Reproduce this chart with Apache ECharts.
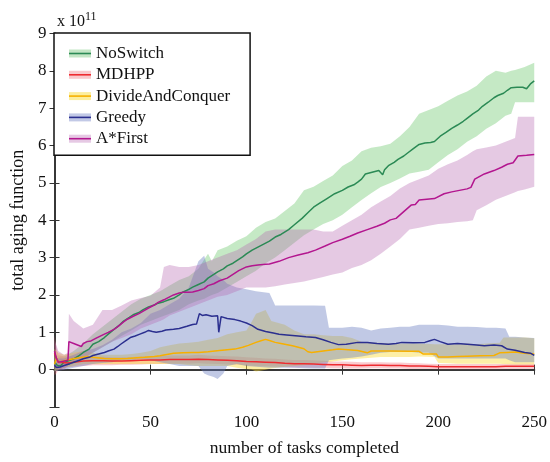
<!DOCTYPE html>
<html>
<head>
<meta charset="utf-8">
<script src="https://cdn.jsdelivr.net/npm/echarts@6/dist/echarts.min.js"></script>
<style>
html, body { margin: 0; padding: 0; background: #fff; }
#main { width: 550px; height: 462px; }
</style>
</head>
<body>
<div id="main"></div>
<script>
// mean curves: [tasks, value x 1e11]
var noSwitchMean = [[0,0.2],[1.5,0.11],[3,0.1],[5,0.2],[8,0.25],[10,0.29],[13,0.38],[15,0.46],[18,0.55],[20,0.68],[23,0.75],[26,0.86],[28,0.95],[31,1.08],[34,1.2],[36,1.3],[39,1.4],[41,1.47],[44,1.53],[46,1.6],[49,1.68],[52,1.73],[54,1.78],[57,1.82],[60,1.88],[62,1.91],[65,2.0],[67,2.08],[70,2.15],[72,2.21],[75,2.28],[78,2.35],[80,2.45],[83,2.55],[85,2.62],[88,2.7],[90,2.78],[93,2.85],[95,2.92],[98,3.02],[100,3.1],[103,3.2],[106,3.28],[109,3.36],[112,3.44],[115,3.55],[118,3.62],[122,3.75],[125,3.88],[129,4.05],[132,4.2],[135,4.35],[138,4.45],[142,4.58],[146,4.71],[150,4.8],[153,4.89],[156,4.95],[158,5.02],[160,5.1],[162,5.24],[165,5.28],[169,5.33],[170,5.3],[171,5.22],[172,5.35],[174,5.46],[177,5.55],[179,5.63],[182,5.72],[184,5.8],[187,5.92],[190,6.03],[193,6.07],[196,6.08],[198,6.11],[201,6.25],[204,6.35],[207,6.46],[210,6.55],[213,6.65],[215,6.73],[218,6.85],[221,6.95],[223,7.05],[226,7.16],[229,7.28],[231,7.34],[234,7.4],[236,7.48],[238,7.55],[241,7.56],[244,7.56],[246,7.52],[248,7.65],[250,7.73]];
var mdhppMean = [[0,0.45],[1,0.3],[2,0.2],[4,0.19],[7,0.18],[10,0.2],[15,0.23],[20,0.24],[25,0.24],[30,0.23],[35,0.23],[40,0.24],[45,0.25],[50,0.26],[55,0.26],[60,0.27],[65,0.27],[70,0.27],[75,0.28],[80,0.27],[85,0.26],[90,0.25],[95,0.24],[100,0.22],[105,0.21],[110,0.2],[115,0.19],[120,0.17],[125,0.16],[130,0.16],[135,0.15],[140,0.14],[145,0.13],[150,0.13],[155,0.12],[160,0.11],[165,0.12],[170,0.12],[175,0.11],[180,0.11],[185,0.1],[190,0.1],[195,0.09],[200,0.08],[210,0.08],[220,0.08],[230,0.08],[235,0.09],[240,0.09],[250,0.09]];
var divideMean = [[0,0.15],[1,0.3],[2,0.2],[3,0.15],[5,0.24],[8,0.27],[10,0.29],[13,0.32],[17,0.35],[20,0.33],[22,0.32],[26,0.3],[30,0.29],[34,0.29],[38,0.3],[43,0.32],[47,0.33],[52,0.35],[55,0.37],[57,0.39],[60,0.42],[62,0.44],[67,0.45],[72,0.46],[75,0.46],[80,0.48],[86,0.51],[90,0.53],[94,0.55],[98,0.6],[101,0.65],[105,0.73],[108,0.78],[110,0.81],[112,0.78],[115,0.73],[118,0.7],[120,0.68],[124,0.64],[127,0.6],[130,0.56],[132,0.48],[134,0.46],[140,0.5],[145,0.53],[148,0.55],[153,0.53],[158,0.51],[163,0.45],[165,0.5],[175,0.5],[185,0.49],[190,0.49],[192,0.42],[199,0.42],[200,0.34],[205,0.34],[210,0.35],[215,0.36],[222,0.37],[229,0.38],[232,0.45],[236,0.46],[240,0.47],[245,0.44],[250,0.42]];
var greedyMean = [[0,0.12],[1,0.06],[3,0.07],[5,0.11],[8,0.16],[10,0.2],[13,0.25],[15,0.29],[18,0.33],[20,0.38],[23,0.42],[26,0.46],[28,0.5],[31,0.55],[33,0.62],[34.5,0.68],[37,0.77],[39.5,0.86],[42,0.9],[44.5,0.95],[47,1.0],[49,1.05],[51,1.02],[53,1.0],[56,1.03],[58,1.06],[62,1.08],[65,1.1],[69,1.16],[72,1.21],[74,1.22],[75.5,1.5],[77,1.45],[79,1.47],[82,1.43],[85,1.44],[85.6,1.0],[86.3,1.0],[86.8,1.42],[90,1.37],[94,1.34],[97,1.3],[100,1.25],[103,1.18],[106,1.08],[110,1.02],[114,0.98],[117,0.95],[121,0.93],[127,0.9],[131,0.88],[136,0.86],[140,0.8],[144,0.73],[148,0.67],[152,0.68],[158,0.73],[163,0.73],[168,0.7],[174,0.68],[178,0.7],[181,0.73],[187,0.72],[193,0.73],[196,0.78],[198,0.81],[201,0.75],[205,0.68],[210,0.7],[215,0.68],[220,0.66],[224,0.64],[229,0.66],[233,0.64],[236,0.55],[240,0.52],[245,0.46],[248,0.44],[250,0.38]];
var aStarMean = [[0,0.5],[1,0.3],[2,0.2],[4,0.22],[7,0.25],[7.5,0.75],[10,0.7],[12,0.66],[14,0.62],[15,0.7],[17,0.75],[19,0.77],[22,0.85],[26,0.95],[28,1.0],[31,1.08],[33,1.15],[36,1.28],[38,1.35],[41,1.43],[44,1.5],[46,1.56],[49,1.65],[52,1.73],[54,1.8],[57,1.87],[60,1.95],[62,2.0],[65,2.05],[67,2.07],[70,2.07],[72,2.08],[75,2.12],[78,2.17],[80,2.25],[83,2.3],[86,2.38],[90,2.45],[93,2.55],[96,2.65],[100,2.75],[103,2.78],[106,2.8],[110,2.82],[112,2.83],[117,2.9],[122,3.0],[127,3.07],[132,3.13],[136,3.2],[141,3.31],[145,3.4],[150,3.49],[154,3.57],[158,3.66],[163,3.75],[168,3.84],[172,3.92],[175,4.01],[178,4.05],[182,4.23],[186,4.41],[188,4.42],[190,4.54],[194,4.56],[198,4.58],[203,4.71],[207,4.76],[211,4.8],[215,4.84],[217,4.88],[219,5.1],[224,5.24],[229,5.33],[233,5.42],[236,5.5],[239,5.54],[240,5.56],[241.5,5.72],[246,5.74],[250,5.76]];

// spread bands: [tasks, lower, upper]
var noSwitchBand = [[0,0.0,0.35],[5,0.05,0.35],[10,0.15,0.5],[15,0.3,0.7],[20,0.45,0.95],[25,0.6,1.15],[30,0.75,1.35],[35,0.9,1.55],[40,1.05,1.75],[45,1.2,1.9],[50,1.3,2.0],[55,1.4,2.1],[60,1.5,2.25],[65,1.6,2.4],[70,1.75,2.5],[75,1.85,2.7],[78,1.9,2.95],[80,1.95,3.1],[82,2.0,2.9],[85,2.05,3.2],[90,2.2,3.3],[95,2.35,3.45],[100,2.5,3.57],[105,2.65,3.8],[110,2.85,3.95],[115,3.0,4.05],[120,3.2,4.25],[125,3.4,4.45],[130,3.6,4.8],[135,3.75,4.9],[140,3.9,5.05],[145,4.0,5.2],[150,4.15,5.45],[155,4.35,5.6],[160,4.54,5.85],[165,4.72,5.94],[170,4.89,5.98],[175,5.0,6.05],[180,5.12,6.25],[185,5.25,6.5],[190,5.3,6.85],[195,5.35,6.95],[200,5.55,7.05],[205,5.75,7.2],[210,5.9,7.34],[215,6.1,7.45],[220,6.25,7.6],[225,6.45,7.85],[230,6.6,8.0],[235,6.8,7.95],[238,6.85,8.0],[240,7.16,8.02],[245,7.16,8.1],[250,7.16,8.22]];
var mdhppBand = [[0,-0.15,0.9],[1,-0.1,0.6],[2,0.0,0.4],[5,0.05,0.35],[10,0.08,0.35],[15,0.1,0.35],[20,0.12,0.35],[25,0.12,0.35],[30,0.12,0.33],[35,0.13,0.33],[40,0.13,0.34],[45,0.14,0.35],[50,0.15,0.36],[55,0.15,0.37],[60,0.16,0.38],[65,0.16,0.38],[70,0.16,0.38],[75,0.17,0.4],[80,0.16,0.38],[85,0.15,0.37],[90,0.14,0.36],[95,0.13,0.35],[100,0.11,0.33],[105,0.1,0.32],[110,0.09,0.3],[115,0.08,0.29],[120,0.07,0.27],[125,0.06,0.26],[130,0.06,0.26],[135,0.05,0.25],[140,0.05,0.24],[145,0.04,0.22],[150,0.04,0.22],[155,0.03,0.21],[160,0.03,0.2],[165,0.04,0.2],[170,0.04,0.2],[175,0.03,0.19],[180,0.03,0.19],[185,0.02,0.18],[190,0.02,0.17],[195,0.02,0.16],[200,0.01,0.15],[210,0.01,0.15],[220,0.01,0.15],[230,0.01,0.15],[240,0.02,0.16],[250,0.02,0.16]];
var divideBand = [[0,-0.05,0.55],[2,0.0,0.45],[5,0.05,0.4],[10,0.1,0.45],[15,0.15,0.5],[20,0.15,0.45],[25,0.15,0.4],[30,0.15,0.4],[35,0.15,0.4],[40,0.15,0.42],[45,0.15,0.45],[50,0.15,0.5],[55,0.15,0.6],[60,0.15,0.65],[65,0.15,0.7],[70,0.12,0.72],[75,0.1,0.75],[80,0.1,0.8],[85,0.1,0.85],[90,0.1,0.95],[95,0.05,1.0],[100,0.02,1.05],[103,0.0,1.3],[105,-0.05,1.5],[110,0.0,1.6],[113,0.03,1.3],[120,0.08,1.2],[125,0.1,1.05],[130,0.12,0.95],[135,0.15,0.95],[140,0.2,0.92],[145,0.22,0.9],[150,0.25,0.9],[155,0.28,0.85],[160,0.3,0.75],[165,0.32,0.72],[170,0.34,0.72],[175,0.34,0.7],[180,0.34,0.7],[185,0.34,0.7],[190,0.35,0.7],[198,0.34,0.68],[200,0.18,0.68],[205,0.17,0.68],[210,0.16,0.68],[215,0.16,0.7],[220,0.16,0.68],[225,0.16,0.7],[232,0.16,0.72],[234,0.15,0.86],[240,0.14,0.86],[245,0.14,0.86],[250,0.14,0.84]];
var greedyBand = [[0,-0.05,0.3],[5,0.0,0.3],[10,0.05,0.4],[15,0.1,0.5],[20,0.15,0.55],[25,0.18,0.65],[30,0.2,0.8],[35,0.25,1.0],[40,0.25,1.1],[45,0.28,1.25],[50,0.25,1.5],[55,0.2,1.6],[60,0.15,1.75],[65,0.1,1.9],[70,0.1,2.2],[75,0.1,2.9],[78,-0.1,3.05],[80,-0.15,2.7],[83,-0.2,2.6],[85,-0.25,2.5],[88,-0.1,2.4],[90,0.1,2.3],[95,0.15,2.2],[100,0.1,2.15],[105,0.08,2.1],[112,0.05,2.05],[115,0.05,1.72],[120,0.05,1.72],[125,0.05,1.72],[130,0.04,1.72],[135,0.03,1.72],[141,0.03,1.71],[143,0.25,1.12],[150,0.3,1.12],[155,0.32,1.15],[160,0.35,1.12],[165,0.4,1.05],[170,0.45,1.1],[175,0.47,1.12],[180,0.48,1.15],[185,0.48,1.15],[190,0.45,1.2],[195,0.45,1.2],[200,0.3,1.2],[205,0.3,1.18],[210,0.3,1.15],[215,0.3,1.15],[220,0.3,1.14],[225,0.3,1.12],[230,0.3,1.12],[235,0.3,1.1],[237,0.25,0.88],[240,0.2,0.88],[245,0.2,0.86],[250,0.2,0.85]];
var aStarBand = [[0,0.1,0.8],[2,0.0,0.5],[5,0.0,0.4],[7,0.1,0.45],[7.5,0.3,1.5],[10,0.2,1.3],[15,0.3,1.1],[20,0.45,1.2],[25,0.6,1.6],[30,0.75,1.6],[35,0.85,1.72],[40,0.95,1.85],[45,1.1,1.92],[50,1.2,1.98],[55,1.3,2.2],[57,1.35,2.75],[60,1.45,2.8],[65,1.55,2.75],[70,1.65,2.75],[75,1.75,2.8],[80,1.85,2.9],[85,1.95,3.0],[90,2.0,3.1],[95,2.1,3.2],[100,2.2,3.35],[105,2.2,3.5],[110,2.2,3.7],[115,2.23,3.75],[120,2.28,3.75],[125,2.32,3.75],[130,2.36,3.75],[135,2.42,3.75],[140,2.48,3.7],[145,2.55,3.7],[150,2.6,3.85],[155,2.72,4.0],[160,2.8,4.15],[165,2.93,4.35],[170,3.1,4.5],[175,3.3,4.65],[180,3.5,4.85],[185,3.75,5.0],[190,3.8,5.1],[195,3.85,5.2],[200,3.9,5.38],[205,3.92,5.5],[210,3.95,5.6],[215,3.97,5.75],[218,4.0,5.85],[220,4.27,5.9],[225,4.4,5.95],[230,4.55,6.0],[235,4.65,6.1],[240,4.75,6.2],[241.5,4.78,6.77],[245,4.82,6.77],[250,4.9,6.77]];

var names = ['NoSwitch', 'MDHPP', 'DivideAndConquer', 'Greedy', 'A*First'];
var means = [noSwitchMean, mdhppMean, divideMean, greedyMean, aStarMean];
var bands = [noSwitchBand, mdhppBand, divideBand, greedyBand, aStarBand];
var lineColors = ['#2b8a55', '#ee2b30', '#f7b000', '#2b2f8f', '#b3168f'];
var bandFills = ['rgba(110,200,110,0.4)', 'rgba(240,110,120,0.35)', 'rgba(250,220,60,0.45)', 'rgba(100,120,190,0.4)', 'rgba(180,100,175,0.35)'];
var bandIcons = ['#c3e6c5', '#f9c8cc', '#fcee9e', '#c2c9e6', '#e6c9e4'];

var FONT = 'Liberation Serif';
var chartDom = document.getElementById('main');
var myChart = echarts.init(chartDom);

// one polygon per band: upper edge left to right, lower edge back
function bandRenderer(band, fill) {
    return function (params, api) {
        if (params.dataIndex !== 0) return null;
        var pts = [];
        band.forEach(function (d) { pts.push(api.coord([d[0], d[2]])); });
        for (var k = band.length - 1; k >= 0; k--) {
            pts.push(api.coord([band[k][0], band[k][1]]));
        }
        return { type: 'polygon', shape: { points: pts }, style: { fill: fill } };
    };
}

var series = [];
bands.forEach(function (band, i) {
    series.push({
        name: names[i] + ' band',
        type: 'custom',
        renderItem: bandRenderer(band, bandFills[i]),
        data: band,
        encode: { x: 0, y: [1, 2] },
        itemStyle: { color: bandIcons[i] },
        silent: true,
        z: 1
    });
});
means.forEach(function (m, i) {
    series.push({
        name: names[i],
        type: 'line',
        data: m,
        symbol: 'none',
        color: lineColors[i],
        lineStyle: { color: lineColors[i], width: 1.5 },
        z: 3
    });
});

var legendBase = {
    orient: 'vertical',
    left: 54,
    top: 33,
    icon: 'rect',
    itemWidth: 22,
    itemGap: 4.3,
    padding: [12, 20, 8, 15],
    selectedMode: false
};

var option = {
    animation: false,
    title: {
        text: '{a|x 10}{b|11}',
        left: 57,
        top: 11,
        padding: 0,
        textStyle: {
            fontWeight: 'normal',
            rich: {
                a: { fontFamily: FONT, fontSize: 16, fontWeight: 'normal', color: '#111' },
                b: { fontFamily: FONT, fontSize: 12, fontWeight: 'normal', color: '#111', padding: [0, 0, 9, 0] }
            }
        }
    },
    grid: { left: 54.5, top: 33.5, right: 13.3, bottom: 48 },
    legend: [
        Object.assign({}, legendBase, {
            data: names.map(function (n, i) { return { name: n + ' band', itemStyle: { color: bandIcons[i] } }; }),
            itemHeight: 8,
            borderColor: '#111',
            borderWidth: 1.5,
            backgroundColor: '#fff',
            formatter: function (n) { return n.replace(' band', ''); },
            textStyle: { fontFamily: FONT, fontSize: 17, color: '#111' }
        }),
        Object.assign({}, legendBase, {
            data: names.map(function (n, i) { return { name: n, itemStyle: { color: lineColors[i] } }; }),
            itemHeight: 1.6,
            borderWidth: 0,
            backgroundColor: 'transparent',
            textStyle: { fontFamily: FONT, fontSize: 17, color: 'rgba(0,0,0,0)' }
        })
    ],
    xAxis: [
        {
            type: 'value', min: 0, max: 250, interval: 50,
            name: 'number of tasks completed', nameLocation: 'middle', nameGap: 32,
            nameTextStyle: { fontFamily: FONT, fontSize: 17.5, color: '#111', padding: [0, 0, 0, 20] },
            axisLine: { lineStyle: { color: '#111', width: 2 } },
            axisTick: { inside: true, length: 5, lineStyle: { color: '#333' } },
            axisLabel: { fontFamily: FONT, fontSize: 17, color: '#111', margin: 7 },
            splitLine: { show: false }
        },
        {
            type: 'value', min: 0, max: 250, interval: 50, position: 'top',
            axisLine: { lineStyle: { color: '#444', width: 1.5 } },
            axisTick: { inside: true, length: 5, lineStyle: { color: '#333' } },
            axisLabel: { show: false },
            splitLine: { show: false }
        }
    ],
    yAxis: [
        {
            type: 'value', min: -1, max: 9, interval: 1,
            name: 'total aging function', nameLocation: 'middle', nameGap: 22,
            nameTextStyle: { fontFamily: FONT, fontSize: 18, color: '#111' },
            axisLine: { show: true, lineStyle: { color: '#111', width: 2 } },
            axisTick: { show: true, inside: true, length: 5, lineStyle: { color: '#333' } },
            axisLabel: {
                fontFamily: FONT, fontSize: 17, color: '#111', margin: 8,
                formatter: function (v) { return v === -1 ? '' : v; }
            },
            splitLine: { show: false }
        },
        {
            type: 'value', min: -1, max: 9, interval: 1, position: 'right',
            axisLine: { show: true, lineStyle: { color: '#444', width: 1.5 } },
            axisTick: { show: true, inside: true, length: 5, lineStyle: { color: '#333' } },
            axisLabel: { show: false },
            splitLine: { show: false }
        }
    ],
    series: series
};

option && myChart.setOption(option);
</script>
</body>
</html>
